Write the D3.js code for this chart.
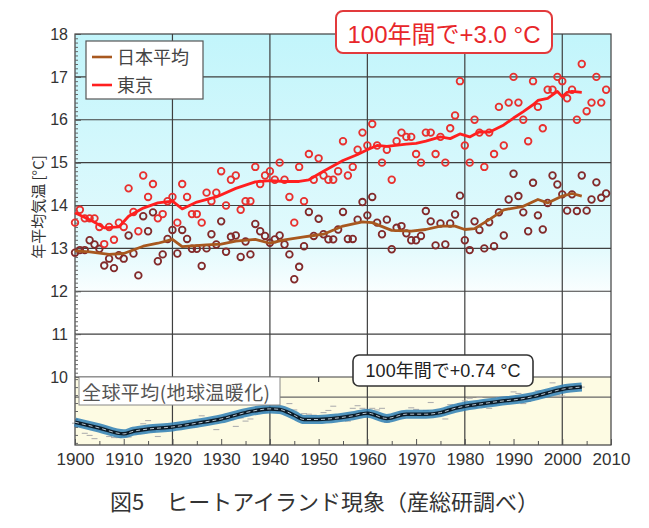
<!DOCTYPE html>
<html>
<head>
<meta charset="utf-8">
<script src="https://cdn.jsdelivr.net/npm/d3@7"></script>
<style>
body { margin: 0; background: #fff; }
text { font-family: "Liberation Sans", "Noto Sans CJK JP", sans-serif; }
.jp { font-family: "Noto Sans CJK JP", sans-serif; }
</style>
</head>
<body>
<svg width="649" height="528"></svg>
<script>
// annual values, 1900-2009
var years = d3.range(1900, 2010);

var tokyo = [13.6, 13.9, 13.7, 13.7, 13.7, 13.5, 13.1, 13.5, 13.2, 13.6,
             13.5, 14.4, 13.85, 13.4, 14.7, 14.2, 14.5, 13.7, 13.8, 14.1,
             14.2, 13.6, 14.5, 14.2, 13.8, 13.8, 13.6, 14.3, 14.1, 14.3,
             14.8, 14.0, 14.6, 14.7, 13.9, 14.1, 14.1, 14.9, 14.5, 14.7,
             14.8, 14.6, 15.0, 14.6, 14.2, 13.6, 14.9, 14.1, 15.2, 14.6,
             15.1, 14.7, 14.6, 14.6, 14.8, 15.5, 14.7, 14.9, 15.3, 15.7,
             15.4, 15.9, 15.4, 15.0, 15.3, 14.6, 15.5, 15.7, 15.6, 15.6,
             15.2, 15.0, 15.7, 15.7, 15.2, 15.6, 15.0, 15.8, 16.1, 16.9,
             15.4, 15.0, 16.0, 15.7, 14.9, 15.7, 15.2, 16.3, 15.4, 16.4,
             17.0, 16.4, 16.0, 15.5, 16.9, 16.3, 15.8, 16.7, 16.7, 17.0,
             16.9, 16.5, 16.7, 16.0, 17.3, 16.2, 16.4, 17.0, 16.4, 16.7];

var japan = [12.9, 12.96, 12.96, 13.19, 13.09, 12.99, 12.6, 12.76, 12.54, 12.84,
             12.76, 13.3, 12.88, 12.37, 13.75, 13.4, 13.84, 12.7, 12.86, 13.22,
             13.43, 12.88, 13.43, 13.22, 12.99, 12.99, 12.59, 13.0, 13.33, 13.09,
             13.63, 12.92, 13.27, 13.3, 12.8, 13.16, 12.86, 13.57, 13.4, 13.29,
             13.13, 13.21, 13.3, 13.09, 12.86, 12.28, 12.57, 13.05, 13.85, 13.29,
             13.69, 13.33, 13.21, 13.21, 13.44, 13.85, 13.22, 13.22, 13.67, 14.08,
             13.77, 14.2, 13.6, 13.33, 13.67, 12.98, 13.48, 13.52, 13.35, 13.19,
             13.19, 13.29, 13.87, 13.63, 13.07, 13.58, 13.09, 13.58, 13.79, 14.23,
             13.19, 12.96, 13.63, 13.43, 13.0, 13.61, 13.05, 13.84, 13.3, 14.14,
             14.74, 14.22, 13.84, 13.4, 14.53, 13.77, 13.44, 14.06, 14.7, 14.49,
             14.26, 13.88, 14.26, 13.87, 14.7, 13.88, 14.14, 14.54, 14.18, 14.28];

// smoothed curves, read at the years where they bend
var tokyoSmoothYears = [1900, 1903, 1906, 1909, 1911, 1914, 1917, 1920, 1922, 1925,
                        1929, 1933, 1937, 1940, 1943, 1946, 1948, 1951, 1955, 1958,
                        1960, 1962, 1964, 1968, 1970, 1972, 1975, 1977, 1979, 1981,
                        1983, 1985, 1988, 1990, 1992, 1994, 1995, 1997, 1999, 2000,
                        2001, 2002, 2004];
var tokyoSmooth = [13.83, 13.67, 13.48, 13.5, 13.75, 13.94, 14.06, 14.1, 13.92, 14.08,
                   14.2, 14.4, 14.55, 14.58, 14.56, 14.56, 14.6, 14.8, 15.05, 15.19,
                   15.3, 15.4, 15.38, 15.43, 15.45, 15.5, 15.6, 15.56, 15.67, 15.6,
                   15.72, 15.71, 15.88, 16.04, 16.19, 16.35, 16.45, 16.5, 16.66, 16.54,
                   16.64, 16.66, 16.64];

var japanSmoothYears = [1900, 1903, 1907, 1910, 1914, 1917, 1920, 1922, 1927, 1930,
                        1933, 1937, 1940, 1943, 1947, 1949, 1951, 1955, 1959, 1961,
                        1965, 1969, 1972, 1975, 1978, 1980, 1982, 1985, 1988, 1992,
                        1995, 1997, 2000, 2002, 2004];
var japanSmooth = [12.94, 12.92, 12.86, 12.88, 13.05, 13.12, 13.21, 13.04, 13.08, 13.1,
                   13.17, 13.21, 13.12, 13.2, 13.27, 13.3, 13.33, 13.52, 13.62, 13.6,
                   13.42, 13.4, 13.44, 13.52, 13.52, 13.44, 13.46, 13.67, 13.9, 13.98,
                   14.14, 14.06, 14.22, 14.28, 14.22];

// global mean anomaly (lower panel)
var globalSmoothYears = [1900, 1905, 1910, 1912, 1915, 1920, 1925, 1930, 1935, 1940,
                         1942, 1945, 1947, 1950, 1954, 1957, 1960, 1964, 1968, 1972,
                         1975, 1978, 1980, 1983, 1987, 1991, 1994, 1997, 2000, 2004];
var globalSmooth = [-0.21, -0.32, -0.43, -0.38, -0.34, -0.30, -0.23, -0.15, -0.03, 0.04,
                    0.03, -0.08, -0.16, -0.16, -0.13, -0.09, -0.04, -0.14, -0.06, -0.06,
                    -0.03, 0.05, 0.09, 0.13, 0.18, 0.22, 0.27, 0.34, 0.41, 0.45];

var globalYears = d3.range(1900, 2005);
var globalAnnual = [-0.23, -0.29, -0.42, -0.46, -0.52, -0.36, -0.30, -0.48, -0.50, -0.50,
                    -0.48, -0.49, -0.41, -0.43, -0.24, -0.18, -0.38, -0.48, -0.36, -0.32,
                    -0.30, -0.22, -0.31, -0.30, -0.30, -0.22, -0.09, -0.21, -0.20, -0.35,
                    -0.15, -0.10, -0.16, -0.29, -0.13, -0.19, -0.15, -0.03, 0.00, -0.02,
                    0.01, 0.06, 0.00, 0.00, 0.14, 0.02, -0.08, -0.05, -0.06, -0.08,
                    -0.17, -0.03, 0.01, 0.09, -0.12, -0.14, -0.19, 0.05, 0.10, 0.05,
                    -0.02, 0.05, 0.02, 0.05, -0.21, -0.11, -0.06, -0.02, -0.07, 0.06,
                    0.03, -0.09, 0.01, 0.16, -0.07, -0.01, -0.15, 0.12, 0.06, 0.13,
                    0.19, 0.24, 0.07, 0.26, 0.09, 0.05, 0.12, 0.26, 0.26, 0.19,
                    0.36, 0.33, 0.14, 0.18, 0.25, 0.38, 0.29, 0.39, 0.53, 0.30,
                    0.28, 0.41, 0.46, 0.47, 0.45];

var yTicks = [10, 11, 12, 13, 14, 15, 16, 17, 18];
var xTicks = d3.range(1900, 2011, 10);

var plotLeft = 75, plotRight = 611, plotTop = 34, plotMid = 377, plotBottom = 445;

var svg = d3.select('svg');

var x = d3.scaleLinear().domain([1900, 2010]).range([plotLeft, plotRight]);
var y = d3.scaleLinear().domain([10, 18]).range([plotMid, plotTop]);
var yG = d3.scaleLinear().domain([-0.64, 0.64]).range([plotBottom, plotMid]);

// background gradient for the upper panel
var defs = svg.append('defs');
var grad = defs.append('linearGradient')
    .attr('id', 'sky')
    .attr('x1', 0).attr('y1', 0).attr('x2', 0).attr('y2', 1);
grad.append('stop').attr('offset', '0%').attr('stop-color', '#c2f5fb');
grad.append('stop').attr('offset', '62%').attr('stop-color', '#e2fafd');
grad.append('stop').attr('offset', '78%').attr('stop-color', '#ffffff');
grad.append('stop').attr('offset', '100%').attr('stop-color', '#ffffff');

svg.append('rect')
    .attr('x', plotLeft).attr('y', plotTop)
    .attr('width', plotRight - plotLeft).attr('height', plotMid - plotTop)
    .attr('fill', 'url(#sky)');

svg.append('rect')
    .attr('x', plotLeft).attr('y', plotMid)
    .attr('width', plotRight - plotLeft).attr('height', plotBottom - plotMid)
    .attr('fill', '#fdfbe3');

// grid
var gridG = svg.append('g').attr('stroke', '#3f3f3f').attr('stroke-width', 1.2);
gridG.selectAll('.hgrid')
    .data(yTicks.filter(function(d) { return d > 10 && d < 18; }))
    .enter().append('line')
    .attr('x1', plotLeft).attr('x2', plotRight)
    .attr('y1', function(d) { return y(d); })
    .attr('y2', function(d) { return y(d); });
gridG.append('line')
    .attr('x1', plotLeft).attr('x2', plotRight)
    .attr('y1', y(10)).attr('y2', y(10));
gridG.append('line')
    .attr('x1', plotLeft).attr('x2', plotRight)
    .attr('y1', yG(0.26)).attr('y2', yG(0.26))
    .attr('stroke', '#666');
gridG.selectAll('.vgrid')
    .data([1920, 1940, 1960, 1980, 2000])
    .enter().append('line')
    .attr('x1', function(d) { return x(d); })
    .attr('x2', function(d) { return x(d); })
    .attr('y1', plotTop).attr('y2', plotBottom);

// short ticks under the 10 line
gridG.selectAll('.midtick')
    .data([1910, 1930, 1950, 1970, 1990])
    .enter().append('line')
    .attr('x1', function(d) { return x(d); })
    .attr('x2', function(d) { return x(d); })
    .attr('y1', plotMid).attr('y2', plotMid + 5);

// frame
svg.append('rect')
    .attr('x', plotLeft).attr('y', plotTop)
    .attr('width', plotRight - plotLeft).attr('height', plotBottom - plotTop)
    .attr('fill', 'none').attr('stroke', '#3f3f3f').attr('stroke-width', 1.2);

// left axis
var yAxisG = svg.append('g').attr('transform', 'translate(' + plotLeft + ',0)');
yAxisG.call(d3.axisLeft(y).tickValues(yTicks).tickSize(-6).tickPadding(7).tickFormat(d3.format('d')));
yAxisG.select('.domain').remove();
yAxisG.selectAll('text').attr('font-size', 16).attr('fill', '#333');
yAxisG.selectAll('line').attr('stroke', '#555');

var yMinorG = svg.append('g').attr('transform', 'translate(' + plotLeft + ',0)');
yMinorG.call(d3.axisLeft(y).tickValues(d3.range(10, 18, 0.1)).tickSize(-3).tickFormat(''));
yMinorG.select('.domain').remove();
yMinorG.selectAll('line').attr('stroke', '#666');

var yGMinorG = svg.append('g').attr('transform', 'translate(' + plotLeft + ',0)');
yGMinorG.call(d3.axisLeft(yG).tickValues(d3.range(-0.6, 0.61, 0.15)).tickSize(-3).tickFormat(''));
yGMinorG.select('.domain').remove();
yGMinorG.selectAll('line').attr('stroke', '#666');

// bottom axis
var xAxisG = svg.append('g').attr('transform', 'translate(0,' + plotBottom + ')');
xAxisG.call(d3.axisBottom(x).tickValues(xTicks).tickSize(-6).tickPadding(8).tickFormat(d3.format('d')));
xAxisG.select('.domain').remove();
xAxisG.selectAll('text').attr('font-size', 17).attr('fill', '#333');
xAxisG.selectAll('line').attr('stroke', '#555');

var xMinorG = svg.append('g').attr('transform', 'translate(0,' + plotBottom + ')');
xMinorG.call(d3.axisBottom(x).tickValues(d3.range(1905, 2010, 10)).tickSize(-4).tickFormat(''));
xMinorG.select('.domain').remove();
xMinorG.selectAll('line').attr('stroke', '#555');

// axis title
svg.append('text')
    .attr('class', 'jp')
    .attr('transform', 'translate(44,207) rotate(-90)')
    .attr('text-anchor', 'middle')
    .attr('font-size', 15)
    .attr('fill', '#333')
    .text('年平均気温 [°C]');

// global panel: annual marks, then band
svg.append('g').selectAll('line')
    .data(globalYears)
    .enter().append('line')
    .attr('x1', function(d) { return x(d) - 3; })
    .attr('x2', function(d) { return x(d) + 3; })
    .attr('y1', function(d, i) { return yG(globalAnnual[i]); })
    .attr('y2', function(d, i) { return yG(globalAnnual[i]); })
    .attr('stroke', '#b0b0b0')
    .attr('stroke-width', 1.1);

var gLine = d3.line()
    .x(function(d) { return x(d); })
    .y(function(d, i) { return yG(globalSmooth[i]); })
    .curve(d3.curveMonotoneX);

svg.append('path').attr('d', gLine(globalSmoothYears))
    .attr('fill', 'none').attr('stroke', '#2f7fb5').attr('stroke-width', 9)
    .attr('stroke-opacity', 0.85);
svg.append('path').attr('d', gLine(globalSmoothYears))
    .attr('fill', 'none').attr('stroke', '#0b1b28').attr('stroke-width', 3.5);
svg.append('path').attr('d', gLine(globalSmoothYears))
    .attr('fill', 'none').attr('stroke', '#b9c6cf').attr('stroke-width', 1)
    .attr('stroke-dasharray', '4,3');

// annual points
svg.append('g').selectAll('circle')
    .data(years)
    .enter().append('circle')
    .attr('cx', function(d) { return x(d); })
    .attr('cy', function(d, i) { return y(japan[i]); })
    .attr('r', 3.3)
    .attr('fill', 'none')
    .attr('stroke', '#822a2a')
    .attr('stroke-width', 1.8);

svg.append('g').selectAll('circle')
    .data(years)
    .enter().append('circle')
    .attr('cx', function(d) { return x(d); })
    .attr('cy', function(d, i) { return y(tokyo[i]); })
    .attr('r', 3.3)
    .attr('fill', 'none')
    .attr('stroke', '#e8302e')
    .attr('stroke-width', 1.8);

// smoothed lines
var jLine = d3.line()
    .x(function(d) { return x(d); })
    .y(function(d, i) { return y(japanSmooth[i]); });
var tLine = d3.line()
    .x(function(d) { return x(d); })
    .y(function(d, i) { return y(tokyoSmooth[i]); });

svg.append('path').attr('d', jLine(japanSmoothYears))
    .attr('fill', 'none').attr('stroke', '#a8581f').attr('stroke-width', 2.8)
    .attr('stroke-linejoin', 'round');
svg.append('path').attr('d', tLine(tokyoSmoothYears))
    .attr('fill', 'none').attr('stroke', '#ff1f1f').attr('stroke-width', 2.8)
    .attr('stroke-linejoin', 'round');

// legend
var legend = svg.append('g');
legend.append('rect')
    .attr('x', 86).attr('y', 41).attr('width', 117).attr('height', 58)
    .attr('fill', '#fff').attr('stroke', '#555').attr('stroke-width', 1.2);
var legendItems = [
    { label: '日本平均', color: '#a8581f', y: 57 },
    { label: '東京', color: '#ff1f1f', y: 85 }
];
legend.selectAll('line')
    .data(legendItems)
    .enter().append('line')
    .attr('x1', 92).attr('x2', 112)
    .attr('y1', function(d) { return d.y; })
    .attr('y2', function(d) { return d.y; })
    .attr('stroke', function(d) { return d.color; })
    .attr('stroke-width', 2.6);
legend.selectAll('text')
    .data(legendItems)
    .enter().append('text')
    .attr('class', 'jp')
    .attr('x', 117)
    .attr('y', function(d) { return d.y + 7; })
    .attr('font-size', 18)
    .attr('fill', '#444')
    .text(function(d) { return d.label; });

// callouts
svg.append('rect')
    .attr('x', 336).attr('y', 11).attr('width', 216).attr('height', 42)
    .attr('rx', 7)
    .attr('fill', '#fff').attr('stroke', '#e23a3c').attr('stroke-width', 2);
svg.append('text')
    .attr('x', 444).attr('y', 43)
    .attr('text-anchor', 'middle')
    .attr('font-size', 24)
    .attr('fill', '#e8262a')
    .text('100年間で+3.0 °C');

svg.append('rect')
    .attr('x', 353).attr('y', 355).attr('width', 180).attr('height', 31)
    .attr('rx', 6)
    .attr('fill', '#fff').attr('stroke', '#333').attr('stroke-width', 1.6);
svg.append('text')
    .attr('x', 443).attr('y', 377)
    .attr('text-anchor', 'middle')
    .attr('font-size', 18)
    .attr('fill', '#222')
    .text('100年間で+0.74 °C');

svg.append('rect')
    .attr('x', 79).attr('y', 377).attr('width', 201).attr('height', 28)
    .attr('fill', '#fff').attr('stroke', '#888').attr('stroke-width', 1);
svg.append('text')
    .attr('class', 'jp')
    .attr('x', 82).attr('y', 400)
    .attr('font-size', 19)
    .attr('textLength', 188)
    .attr('lengthAdjust', 'spacing')
    .attr('fill', '#555')
    .text('全球平均(地球温暖化)');

// caption
svg.append('text')
    .attr('class', 'jp')
    .attr('x', 110).attr('y', 510)
    .attr('font-size', 22)
    .attr('fill', '#333')
    .text('図5　ヒートアイランド現象（産総研調べ）');
</script>
</body>
</html>
